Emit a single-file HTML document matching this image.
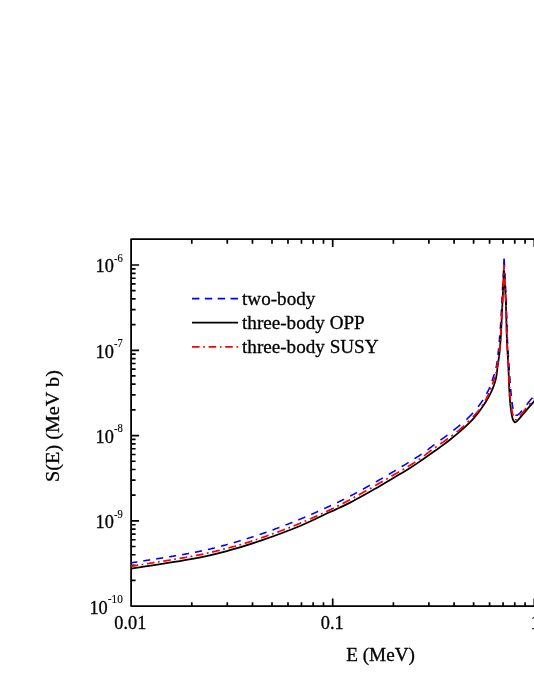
<!DOCTYPE html>
<html><head><meta charset="utf-8"><title>S(E)</title>
<style>
html,body{margin:0;padding:0;background:#fff;}
body{width:534px;height:691px;overflow:hidden;font-family:"Liberation Serif",serif;}
svg{display:block;will-change:transform;}
text{font-family:"Liberation Serif",serif;fill:#000;}
</style></head><body>
<svg width="534" height="691" viewBox="0 0 534 691">
<rect width="534" height="691" fill="#fff"/>
<g stroke="#000" stroke-width="1.8" fill="none" stroke-linecap="butt" stroke-linejoin="round">
<path d="M540 239.1 H131.1 V606.1 H540"/>
</g>
<g stroke="#000" stroke-width="1.7" fill="none">
<path d="M191.79 606.1 v-3.9 M191.79 239.1 v4.6 M227.29 606.1 v-3.9 M227.29 239.1 v4.6 M252.48 606.1 v-3.9 M252.48 239.1 v4.6 M272.01 606.1 v-3.9 M272.01 239.1 v4.6 M287.98 606.1 v-3.9 M287.98 239.1 v4.6 M301.47 606.1 v-3.9 M301.47 239.1 v4.6 M313.16 606.1 v-3.9 M313.16 239.1 v4.6 M323.48 606.1 v-3.9 M323.48 239.1 v4.6 M332.70 606.1 v-7.6 M332.70 239.1 v8.0 M393.39 606.1 v-3.9 M393.39 239.1 v4.6 M428.89 606.1 v-3.9 M428.89 239.1 v4.6 M454.08 606.1 v-3.9 M454.08 239.1 v4.6 M473.61 606.1 v-3.9 M473.61 239.1 v4.6 M489.58 606.1 v-3.9 M489.58 239.1 v4.6 M503.07 606.1 v-3.9 M503.07 239.1 v4.6 M514.76 606.1 v-3.9 M514.76 239.1 v4.6 M525.08 606.1 v-3.9 M525.08 239.1 v4.6 M534.30 606.1 v-7.6 M534.30 239.1 v8.0 M131.1 580.43 h4.5 M131.1 565.42 h4.5 M131.1 554.76 h4.5 M131.1 546.50 h4.5 M131.1 539.75 h4.5 M131.1 534.04 h4.5 M131.1 529.09 h4.5 M131.1 524.73 h4.5 M131.1 520.83 h8.0 M131.1 495.16 h4.5 M131.1 480.15 h4.5 M131.1 469.49 h4.5 M131.1 461.23 h4.5 M131.1 454.48 h4.5 M131.1 448.77 h4.5 M131.1 443.82 h4.5 M131.1 439.46 h4.5 M131.1 435.56 h8.0 M131.1 409.89 h4.5 M131.1 394.88 h4.5 M131.1 384.22 h4.5 M131.1 375.96 h4.5 M131.1 369.21 h4.5 M131.1 363.50 h4.5 M131.1 358.55 h4.5 M131.1 354.19 h4.5 M131.1 350.29 h8.0 M131.1 324.62 h4.5 M131.1 309.61 h4.5 M131.1 298.95 h4.5 M131.1 290.69 h4.5 M131.1 283.94 h4.5 M131.1 278.23 h4.5 M131.1 273.28 h4.5 M131.1 268.92 h4.5 M131.1 265.02 h8.0"/>
</g>
<text transform="translate(130.30,629.20) scale(0.99,1.0)" font-size="18.5" text-anchor="middle" stroke="#000" stroke-width="0.3">0.01</text>
<text transform="translate(332.20,629.20) scale(0.99,1.0)" font-size="18.5" text-anchor="middle" stroke="#000" stroke-width="0.3">0.1</text>
<text transform="translate(535.40,629.20) scale(0.99,1.0)" font-size="18.5" text-anchor="middle" stroke="#000" stroke-width="0.3">1</text>
<text transform="translate(107.70,614.10) scale(0.99,1.0)" font-size="18.5" text-anchor="end" stroke="#000" stroke-width="0.3">10</text>
<text transform="translate(107.80,603.25) scale(1.02,1.08)" font-size="11" text-anchor="start" stroke="#000" stroke-width="0.15">-10</text>
<text transform="translate(113.90,528.13) scale(0.99,1.0)" font-size="18.5" text-anchor="end" stroke="#000" stroke-width="0.3">10</text>
<text transform="translate(114.00,517.63) scale(0.96,1.08)" font-size="11" text-anchor="start" stroke="#000" stroke-width="0.15">-9</text>
<text transform="translate(113.90,442.86) scale(0.99,1.0)" font-size="18.5" text-anchor="end" stroke="#000" stroke-width="0.3">10</text>
<text transform="translate(114.00,432.36) scale(0.96,1.08)" font-size="11" text-anchor="start" stroke="#000" stroke-width="0.15">-8</text>
<text transform="translate(113.90,357.59) scale(0.99,1.0)" font-size="18.5" text-anchor="end" stroke="#000" stroke-width="0.3">10</text>
<text transform="translate(114.00,347.09) scale(0.96,1.08)" font-size="11" text-anchor="start" stroke="#000" stroke-width="0.15">-7</text>
<text transform="translate(113.90,272.32) scale(0.99,1.0)" font-size="18.5" text-anchor="end" stroke="#000" stroke-width="0.3">10</text>
<text transform="translate(114.00,261.82) scale(0.96,1.08)" font-size="11" text-anchor="start" stroke="#000" stroke-width="0.15">-6</text>
<text transform="translate(346.20,660.60)" font-size="19.2" text-anchor="start" stroke="#000" stroke-width="0.3">E (MeV)</text>
<text transform="translate(59.00,481.90) rotate(-90) scale(1.01,0.97)" font-size="20" text-anchor="start" stroke="#000" stroke-width="0.3">S(E) (MeV b)</text>
<g fill="none" stroke-width="1.8">
<path d="M192 298.7 H238" stroke="#0000ff" stroke-dasharray="7.4 5.45"/>
<path d="M192 322.7 H238" stroke="#000"/>
<path d="M192 346.9 H238" stroke="#ff0000" stroke-dasharray="7.6 3.7 1.6 3.7"/>
</g>
<text transform="translate(242.00,304.60) scale(0.982,0.97)" font-size="19.5" text-anchor="start" stroke="#000" stroke-width="0.3">two-body</text>
<text transform="translate(242.00,328.80) scale(0.982,0.97)" font-size="19.5" text-anchor="start" stroke="#000" stroke-width="0.3">three-body OPP</text>
<text transform="translate(242.00,352.90) scale(0.982,0.97)" font-size="19.5" text-anchor="start" stroke="#000" stroke-width="0.3">three-body SUSY</text>
<g fill="none" stroke-linejoin="round">
<path d="M131.1 562.9 131.9 562.7 132.7 562.6 133.5 562.5 134.3 562.3 135.1 562.2 135.9 562.1 136.7 562.0 137.3 561.9 M143.3 560.9 144.1 560.8 144.9 560.7 145.7 560.5 146.5 560.4 147.3 560.3 148.1 560.2 148.9 560.0 149.7 559.9 150.2 559.8 M156.2 558.9 157.0 558.8 157.9 558.6 158.7 558.5 159.5 558.4 160.3 558.2 161.1 558.1 161.9 558.0 162.7 557.9 163.2 557.8 M169.2 556.8 170.0 556.7 170.8 556.6 171.6 556.4 172.4 556.3 173.2 556.2 174.0 556.0 174.8 555.9 175.6 555.8 176.1 555.7 M182.1 554.7 182.9 554.5 183.7 554.4 184.5 554.2 185.3 554.1 186.1 554.0 186.9 553.8 187.7 553.7 188.5 553.5 189.0 553.4 M195.0 552.3 195.8 552.1 196.6 552.0 197.4 551.8 198.2 551.6 199.0 551.5 199.8 551.3 200.6 551.1 201.4 551.0 201.9 550.9 M207.9 549.5 208.7 549.3 209.5 549.2 210.3 549.0 211.1 548.8 211.8 548.6 212.6 548.4 213.4 548.2 214.2 548.0 214.8 547.8 M220.9 546.2 221.6 546.0 222.4 545.8 223.2 545.6 224.0 545.4 224.8 545.2 225.5 545.0 226.3 544.7 227.1 544.5 227.7 544.3 M233.8 542.7 234.5 542.4 235.3 542.2 236.1 542.0 236.9 541.8 237.7 541.5 238.5 541.3 239.2 541.1 240.0 540.8 240.7 540.6 M246.7 538.8 247.5 538.5 248.2 538.3 249.0 538.0 249.8 537.8 250.5 537.5 251.3 537.3 252.1 537.0 252.9 536.8 253.6 536.5 M259.6 534.5 260.4 534.2 261.1 534.0 261.9 533.7 262.7 533.5 263.4 533.2 264.2 532.9 265.0 532.7 265.7 532.4 266.5 532.1 266.5 532.1 M272.5 529.9 273.3 529.7 274.0 529.4 274.8 529.1 275.6 528.8 276.3 528.5 277.1 528.3 277.8 528.0 278.6 527.7 279.3 527.4 279.4 527.4 M285.5 525.1 286.2 524.8 287.0 524.5 287.7 524.2 288.5 523.9 289.2 523.6 290.0 523.3 290.7 523.0 291.5 522.7 292.2 522.4 292.3 522.3 M298.4 519.9 299.1 519.6 299.8 519.3 300.6 519.0 301.3 518.6 302.1 518.3 302.8 518.0 303.6 517.7 304.3 517.4 305.1 517.1 305.3 517.0 M311.3 514.4 312.0 514.1 312.8 513.7 313.5 513.4 314.3 513.1 315.0 512.8 315.8 512.4 316.5 512.1 317.3 511.8 318.0 511.4 318.2 511.4 M324.2 508.6 324.9 508.3 325.7 508.0 326.4 507.6 327.2 507.3 327.9 506.9 328.6 506.6 329.4 506.3 330.1 505.9 330.8 505.6 331.1 505.5 M337.1 502.6 337.9 502.2 338.6 501.9 339.3 501.5 340.0 501.2 340.8 500.8 341.5 500.5 342.2 500.1 342.9 499.7 343.7 499.4 344.0 499.2 M350.1 496.1 350.8 495.8 351.5 495.4 352.2 495.0 352.9 494.6 353.7 494.2 354.4 493.9 355.1 493.5 355.8 493.1 356.5 492.7 357.0 492.5 M363.0 489.2 363.7 488.8 364.4 488.4 365.1 488.0 365.8 487.6 366.5 487.2 367.2 486.8 367.9 486.4 368.6 486.0 369.3 485.6 369.9 485.3 M375.9 481.9 376.6 481.5 377.3 481.1 378.0 480.7 378.7 480.3 379.4 479.9 380.1 479.5 380.8 479.1 381.5 478.6 382.2 478.2 382.8 477.9 M388.8 474.4 389.5 474.0 390.2 473.5 390.9 473.1 391.6 472.7 392.3 472.3 393.0 471.9 393.7 471.5 394.4 471.1 395.0 470.7 395.7 470.3 M401.7 466.7 402.4 466.2 403.1 465.8 403.8 465.4 404.5 465.0 405.2 464.6 405.9 464.1 406.6 463.7 407.2 463.3 407.9 462.9 408.6 462.4 408.6 462.4 M414.6 458.7 415.3 458.2 416.0 457.8 416.7 457.3 417.4 456.9 418.1 456.5 418.8 456.0 419.4 455.6 420.1 455.1 420.8 454.7 421.4 454.2 421.6 454.1 M427.6 449.8 428.2 449.3 428.9 448.8 429.5 448.3 430.1 447.8 430.8 447.4 431.4 446.9 432.1 446.4 432.7 445.9 433.4 445.4 434.0 444.9 434.5 444.6 M440.5 440.2 441.1 439.7 441.8 439.2 442.5 438.7 443.1 438.2 443.7 437.8 444.4 437.3 445.0 436.8 445.7 436.3 446.3 435.8 447.0 435.3 447.4 435.0 M453.4 430.4 454.0 429.9 454.7 429.4 455.3 428.9 455.9 428.4 456.6 427.9 457.2 427.4 457.9 426.9 458.5 426.4 459.1 425.9 459.7 425.4 460.3 424.9 M466.3 419.6 466.9 419.1 467.5 418.5 468.1 417.9 468.7 417.4 469.2 416.8 469.8 416.2 470.4 415.6 470.9 415.1 471.5 414.5 472.0 413.9 472.6 413.3 473.0 412.8 M478.0 406.8 478.5 406.2 479.0 405.5 479.5 404.9 480.0 404.2 480.4 403.5 480.9 402.9 481.4 402.2 481.8 401.5 482.3 400.9 482.8 400.2 483.0 399.9 M486.6 393.9 487.0 393.2 487.3 392.4 487.7 391.7 488.1 391.0 488.4 390.3 488.7 389.5 489.1 388.8 489.4 388.0 489.7 387.3 489.8 387.0 M492.0 381.0 492.3 380.2 492.6 379.4 492.8 378.7 493.1 377.9 493.3 377.1 493.6 376.4 493.8 375.6 494.1 374.8 494.3 374.0 M495.9 368.0 496.1 367.2 496.3 366.5 496.5 365.7 496.6 364.9 496.8 364.1 496.9 363.3 497.0 362.5 497.2 361.7 497.2 361.1 M498.0 355.1 498.1 354.3 498.1 353.5 498.2 352.7 498.3 351.9 498.4 351.0 498.5 350.2 498.6 349.4 498.7 348.7 498.7 348.2 M499.2 342.2 499.3 341.4 499.4 340.6 499.4 339.8 499.5 339.0 499.6 338.2 499.6 337.4 499.7 336.6 499.8 335.7 499.8 335.3 M500.3 329.3 500.4 328.5 500.4 327.7 500.5 326.8 500.5 326.0 500.6 325.2 500.6 324.4 500.7 323.6 500.7 322.8 500.8 322.4 M501.1 316.3 501.2 315.5 501.2 314.7 501.2 313.9 501.3 313.1 501.3 312.3 501.4 311.5 501.4 310.7 501.5 309.9 501.5 309.4 M501.8 303.4 501.9 302.6 501.9 301.8 501.9 301.0 502.0 300.2 502.0 299.4 502.1 298.6 502.1 297.8 502.2 297.0 502.2 296.5 M502.5 290.5 502.5 289.7 502.6 288.9 502.6 288.1 502.6 287.3 502.7 286.5 502.7 285.7 502.8 284.9 502.8 284.1 502.8 283.6 M503.1 277.6 503.2 276.8 503.2 276.0 503.3 275.2 503.3 274.4 503.3 273.6 503.4 272.8 503.4 272.0 503.5 271.2 503.5 270.7 M503.8 264.7 503.8 263.9 503.9 263.1 503.9 262.3 503.9 261.5 504.0 260.7 504.0 259.9 504.1 259.1 504.1 258.5 M504.2 259.9 504.2 260.7 504.3 261.5 504.3 262.3 504.3 263.1 504.4 263.9 504.4 264.7 504.5 265.5 504.5 266.3 504.5 266.8 M504.8 272.8 504.9 273.6 504.9 274.4 504.9 275.2 505.0 276.0 505.0 276.8 505.1 277.6 505.1 278.4 505.1 279.2 505.2 279.7 M505.5 285.7 505.5 286.5 505.6 287.3 505.6 288.1 505.6 288.9 505.7 289.7 505.7 290.5 505.8 291.3 505.8 292.1 505.8 292.6 M506.1 298.6 506.2 299.4 506.2 300.2 506.2 301.0 506.3 301.9 506.3 302.7 506.3 303.5 506.3 304.3 506.3 305.1 506.4 305.5 M506.5 311.6 506.5 312.4 506.6 313.2 506.6 314.0 506.6 314.8 506.6 315.6 506.7 316.4 506.7 317.2 506.7 318.0 506.7 318.5 M506.9 324.5 506.9 325.3 506.9 326.1 507.0 326.9 507.0 327.7 507.0 328.5 507.0 329.3 507.1 330.2 507.1 331.0 507.1 331.4 M507.3 337.4 507.3 338.2 507.4 339.0 507.4 339.8 507.4 340.6 507.5 341.4 507.5 342.3 507.6 343.1 507.6 343.9 507.6 344.3 M508.0 350.3 508.1 351.1 508.1 351.9 508.2 352.8 508.2 353.6 508.3 354.4 508.3 355.2 508.4 356.0 508.4 356.8 508.5 357.2 M508.8 363.2 508.9 364.0 508.9 364.8 509.0 365.6 509.0 366.5 509.1 367.3 509.1 368.1 509.2 368.9 509.2 369.7 509.3 370.2 M509.7 376.2 509.8 377.0 509.8 377.8 509.9 378.6 509.9 379.4 510.0 380.2 510.0 381.0 510.1 381.8 510.2 382.6 510.2 383.1 M510.7 389.1 510.7 389.9 510.8 390.7 510.9 391.5 510.9 392.3 511.0 393.1 511.1 393.9 511.2 394.7 511.3 395.5 511.3 396.0 M512.0 402.0 512.1 402.8 512.2 403.6 512.3 404.4 512.4 405.2 512.6 406.0 512.7 406.8 512.8 407.6 513.0 408.4 513.1 408.9 M515.5 414.9 516.2 415.3 517.0 415.2 517.7 414.9 518.4 414.4 519.0 413.9 519.6 413.4 520.2 412.8 520.7 412.2 521.2 411.6 521.7 410.9 522.0 410.7 M526.7 404.7 527.2 404.0 527.7 403.4 528.2 402.7 528.7 402.1 529.2 401.5 529.7 400.9 530.2 400.2 530.7 399.6 531.3 399.0 531.8 398.4 532.4 397.8 532.4 397.7" stroke="#0000ff" stroke-width="1.6"/>
<path d="M131.10 568.65 C141.32 567.03 176.08 561.98 192.40 558.95 C208.72 555.92 217.73 553.46 229.00 550.45 C240.27 547.44 248.17 544.98 260.00 540.90 C271.83 536.82 288.33 530.76 300.00 525.95 C311.67 521.14 323.33 515.12 330.00 512.05 C336.67 508.97 336.67 509.07 340.00 507.50 C343.33 505.93 345.83 504.77 350.00 502.60 C354.17 500.43 360.83 496.79 365.00 494.50 C369.17 492.21 371.67 490.75 375.00 488.85 C378.33 486.95 380.83 485.58 385.00 483.10 C389.17 480.62 395.83 476.52 400.00 474.00 C404.17 471.48 406.67 470.10 410.00 468.00 C413.33 465.90 416.67 463.68 420.00 461.40 C423.33 459.12 426.67 456.67 430.00 454.30 C433.33 451.93 436.67 449.63 440.00 447.20 C443.33 444.77 446.47 442.50 450.00 439.70 C453.53 436.90 457.45 433.75 461.20 430.40 C464.95 427.05 469.32 423.02 472.50 419.60 C475.68 416.18 478.05 412.92 480.30 409.90 C482.55 406.88 484.32 404.22 486.00 401.50 C487.68 398.78 489.10 396.23 490.40 393.60 C491.70 390.97 492.85 388.32 493.80 385.70 C494.75 383.08 495.45 381.18 496.10 377.90 C496.75 374.62 497.13 370.15 497.70 366.00 C498.27 361.85 499.02 357.33 499.50 353.00 C499.98 348.67 500.28 344.67 500.60 340.00 C500.92 335.33 501.07 331.67 501.40 325.00 C501.73 318.33 502.40 304.17 502.60 300.00 L504.00 270.50 L505.80 300.00 C505.92 304.17 506.32 318.33 506.50 325.00 C506.68 331.67 506.72 335.33 506.90 340.00 C507.08 344.67 507.37 348.67 507.60 353.00 C507.83 357.33 508.08 361.67 508.30 366.00 C508.52 370.33 508.73 375.00 508.90 379.00 C509.07 383.00 509.10 386.17 509.30 390.00 C509.50 393.83 509.82 398.70 510.10 402.00 C510.38 405.30 510.70 407.52 511.00 409.80 C511.30 412.08 511.55 414.00 511.90 415.70 C512.25 417.40 512.55 418.90 513.10 420.00 C513.65 421.10 514.45 422.22 515.20 422.30 C515.95 422.38 516.50 421.60 517.60 420.50 C518.70 419.40 520.12 417.68 521.80 415.70 C523.48 413.72 525.67 410.98 527.70 408.60 C529.73 406.22 531.95 403.73 534.00 401.40 C536.05 399.07 539.00 395.73 540.00 394.60" stroke="#000" stroke-width="1.75"/>
<path d="M131.1 566.2 131.9 566.1 132.7 566.0 133.5 565.9 134.3 565.7 135.1 565.6 135.9 565.5 136.7 565.4 137.5 565.2 138.2 565.1 M141.6 564.6 142.4 564.5 143.2 564.3 143.3 564.3 M146.9 563.7 147.7 563.6 148.5 563.5 149.3 563.4 150.1 563.2 150.9 563.1 151.7 563.0 152.5 562.9 153.3 562.7 154.1 562.6 154.5 562.5 M157.9 562.0 158.7 561.9 159.5 561.7 159.6 561.7 M163.2 561.2 164.0 561.0 164.8 560.9 165.6 560.8 166.4 560.6 167.2 560.5 168.0 560.4 168.8 560.3 169.6 560.1 170.4 560.0 170.8 559.9 M174.2 559.4 175.0 559.2 175.8 559.1 175.9 559.1 M179.5 558.5 180.3 558.3 181.1 558.2 181.9 558.1 182.7 557.9 183.5 557.8 184.3 557.6 185.1 557.5 185.9 557.4 186.7 557.2 187.1 557.2 M190.5 556.6 191.3 556.4 192.1 556.3 192.2 556.2 M195.8 555.5 196.6 555.4 197.4 555.2 198.2 555.1 199.0 554.9 199.8 554.8 200.6 554.6 201.4 554.4 202.2 554.3 203.0 554.1 203.4 554.0 M206.8 553.3 207.6 553.1 208.4 552.9 208.5 552.9 M212.1 552.1 212.9 551.9 213.7 551.7 214.5 551.5 215.3 551.3 216.1 551.1 216.8 550.9 217.6 550.7 218.4 550.6 219.2 550.4 219.7 550.2 M223.1 549.3 223.9 549.1 224.7 548.9 224.8 548.9 M228.4 548.0 229.2 547.8 230.0 547.5 230.7 547.3 231.5 547.1 232.3 546.9 233.1 546.7 233.9 546.5 234.7 546.3 235.4 546.1 236.0 545.9 M239.4 544.9 240.2 544.7 241.0 544.5 241.1 544.4 M244.7 543.3 245.5 543.1 246.3 542.8 247.0 542.6 247.8 542.4 248.6 542.1 249.4 541.9 250.1 541.6 250.9 541.4 251.7 541.1 252.3 540.9 M255.7 539.8 256.5 539.5 257.2 539.2 257.4 539.2 M261.0 538.0 261.8 537.7 262.5 537.4 263.3 537.2 264.1 536.9 264.8 536.6 265.6 536.4 266.4 536.1 267.1 535.8 267.9 535.5 268.6 535.3 M272.0 534.1 272.8 533.8 273.5 533.5 273.7 533.5 M277.3 532.1 278.1 531.9 278.8 531.6 279.6 531.3 280.3 531.0 281.1 530.7 281.9 530.5 282.6 530.2 283.4 529.9 284.1 529.6 284.9 529.3 284.9 529.3 M288.3 528.0 289.1 527.7 289.8 527.4 290.0 527.3 M293.6 525.9 294.4 525.6 295.1 525.3 295.9 525.0 296.6 524.7 297.3 524.4 298.1 524.1 298.9 523.8 299.6 523.5 300.3 523.2 301.1 522.8 301.2 522.8 M304.6 521.4 305.3 521.0 306.1 520.7 306.3 520.6 M309.9 519.0 310.6 518.7 311.4 518.4 312.1 518.1 312.9 517.7 313.6 517.4 314.4 517.1 315.1 516.7 315.8 516.4 316.6 516.1 317.3 515.7 317.5 515.6 M320.9 514.1 321.6 513.7 322.4 513.4 322.6 513.3 M326.2 511.6 326.9 511.3 327.7 510.9 328.4 510.6 329.1 510.2 329.9 509.9 330.6 509.5 331.3 509.2 332.1 508.8 332.8 508.5 333.5 508.1 333.8 508.0 M337.2 506.3 337.9 505.9 338.7 505.6 338.9 505.4 M342.5 503.6 343.2 503.3 344.0 502.9 344.7 502.5 345.4 502.1 346.1 501.8 346.8 501.4 347.6 501.0 348.3 500.6 349.0 500.3 349.7 499.9 350.1 499.7 M353.5 497.8 354.2 497.4 354.9 497.0 355.2 496.9 M358.8 494.9 359.5 494.5 360.2 494.1 360.9 493.7 361.6 493.3 362.3 492.9 363.0 492.5 363.7 492.1 364.4 491.7 365.1 491.3 365.9 490.9 366.4 490.6 M369.8 488.7 370.5 488.3 371.2 487.9 371.5 487.7 M375.1 485.6 375.8 485.2 376.5 484.8 377.2 484.4 377.9 484.0 378.6 483.6 379.3 483.2 380.0 482.8 380.7 482.4 381.4 482.0 382.1 481.6 382.7 481.3 M386.1 479.3 386.8 478.9 387.5 478.5 387.8 478.3 M391.4 476.3 392.1 475.8 392.8 475.4 393.5 475.0 394.2 474.6 394.9 474.2 395.6 473.8 396.3 473.4 397.0 473.0 397.7 472.6 398.4 472.2 399.0 471.8 M402.4 469.8 403.1 469.4 403.8 469.0 404.1 468.8 M407.7 466.7 408.4 466.2 409.1 465.8 409.8 465.4 410.5 465.0 411.2 464.6 411.8 464.2 412.5 463.7 413.2 463.3 413.9 462.9 414.6 462.4 415.3 462.0 415.3 462.0 M418.7 459.8 419.4 459.3 420.0 458.9 420.4 458.6 M424.0 455.9 424.6 455.4 425.3 454.9 425.9 454.4 426.5 453.8 427.1 453.3 427.8 452.9 428.4 452.4 429.1 451.9 429.7 451.4 430.4 450.9 431.0 450.5 431.6 450.0 M435.0 447.7 435.7 447.2 436.3 446.7 436.7 446.5 M440.3 444.0 441.0 443.5 441.6 443.0 442.3 442.6 443.0 442.1 443.6 441.6 444.3 441.2 445.0 440.7 445.6 440.2 446.3 439.8 446.9 439.3 447.6 438.8 447.9 438.6 M451.3 436.2 452.0 435.7 452.6 435.2 453.0 434.9 M456.6 432.1 457.2 431.6 457.9 431.1 458.5 430.6 459.1 430.1 459.7 429.6 460.3 429.1 460.9 428.5 461.5 428.0 462.1 427.4 462.8 426.9 463.4 426.3 464.0 425.8 464.2 425.5 M467.6 422.3 468.2 421.7 468.8 421.2 469.3 420.6 M472.8 417.0 473.4 416.5 473.9 415.9 474.5 415.3 475.0 414.7 475.6 414.1 476.1 413.5 476.6 412.9 477.1 412.2 477.7 411.6 478.2 411.0 478.7 410.3 479.2 409.7 479.4 409.4 M481.8 406.0 482.2 405.4 482.7 404.7 482.9 404.3 M485.2 400.7 485.6 400.0 486.0 399.3 486.4 398.6 486.7 397.9 487.1 397.2 487.5 396.5 487.8 395.7 488.2 395.0 488.5 394.3 488.9 393.5 489.0 393.1 M490.4 389.7 490.7 389.0 491.0 388.2 491.1 388.0 M492.4 384.4 492.6 383.7 492.9 382.9 493.2 382.1 493.4 381.4 493.7 380.6 493.9 379.8 494.2 379.1 494.4 378.3 494.7 377.5 494.9 376.8 M495.8 373.4 496.0 372.7 496.2 371.9 496.2 371.7 M496.9 368.1 497.1 367.3 497.2 366.6 497.3 365.8 497.5 365.0 497.6 364.2 497.8 363.4 497.9 362.6 498.0 361.8 498.1 361.0 498.2 360.5 M498.7 357.1 498.8 356.3 498.9 355.5 498.9 355.5 M499.3 351.8 499.4 351.0 499.5 350.2 499.6 349.4 499.7 348.6 499.8 347.8 499.8 347.0 499.9 346.2 500.0 345.4 500.0 344.6 500.1 344.2 M500.3 340.8 500.4 340.0 500.5 339.2 500.5 339.1 M500.7 335.5 500.8 334.7 500.8 333.9 500.9 333.1 500.9 332.3 500.9 331.5 501.0 330.7 501.0 329.9 501.1 329.1 501.1 328.3 501.1 327.9 M501.3 324.5 501.4 323.7 501.4 322.9 501.4 322.8 M501.6 319.2 501.6 318.4 501.7 317.6 501.7 316.8 501.8 316.0 501.8 315.2 501.9 314.4 501.9 313.6 501.9 312.8 502.0 312.0 502.0 311.6 M502.2 308.2 502.2 307.4 502.3 306.6 502.3 306.5 M502.4 302.9 502.5 302.1 502.5 301.3 502.6 300.5 502.6 299.7 502.6 298.9 502.7 298.1 502.7 297.3 502.7 296.5 502.8 295.7 502.8 295.3 M502.9 291.9 503.0 291.1 503.0 290.3 503.0 290.2 M503.1 286.6 503.2 285.8 503.2 285.0 503.2 284.2 503.3 283.4 503.3 282.6 503.3 281.9 503.4 281.1 503.4 280.3 503.4 279.5 503.4 279.0 M503.6 275.6 503.6 274.8 503.6 274.0 503.6 273.9 M503.8 270.3 503.8 269.5 503.9 268.7 503.9 267.9 503.9 267.1 503.9 266.3 504.0 265.5 504.0 265.0 M504.0 265.0 504.0 265.8 504.1 266.6 504.1 267.4 504.2 268.2 504.2 269.0 504.2 269.1 M504.4 272.5 504.4 273.3 504.5 274.1 504.5 274.2 M504.7 277.8 504.7 278.6 504.7 279.4 504.8 280.2 504.8 281.0 504.9 281.8 504.9 282.6 504.9 283.4 505.0 284.2 505.0 285.0 505.1 285.4 M505.2 288.8 505.3 289.6 505.3 290.4 505.3 290.5 M505.5 294.1 505.5 294.9 505.6 295.7 505.6 296.5 505.7 297.3 505.7 298.1 505.7 298.9 505.8 299.7 505.8 300.5 505.8 301.3 505.8 301.7 M505.9 305.1 506.0 305.9 506.0 306.7 506.0 306.8 M506.1 310.4 506.1 311.2 506.1 312.1 506.2 312.9 506.2 313.7 506.2 314.5 506.2 315.3 506.2 316.1 506.3 316.9 506.3 317.7 506.3 318.0 M506.4 321.4 506.4 322.2 506.4 323.0 506.4 323.1 M506.6 326.7 506.6 327.5 506.6 328.4 506.6 329.2 506.6 330.0 506.7 330.8 506.7 331.6 506.7 332.4 506.7 333.2 506.8 334.0 506.8 334.3 M506.9 337.7 506.9 338.5 507.0 339.3 507.0 339.4 M507.1 343.0 507.2 343.8 507.2 344.6 507.3 345.4 507.3 346.3 507.4 347.1 507.4 347.9 507.5 348.7 507.5 349.5 507.5 350.3 507.6 350.6 M507.8 354.0 507.8 354.8 507.8 355.6 507.8 355.7 M508.0 359.3 508.1 360.1 508.1 360.9 508.2 361.7 508.2 362.5 508.3 363.3 508.3 364.1 508.3 364.9 508.4 365.7 508.4 366.5 508.4 366.9 M508.6 370.3 508.7 371.1 508.7 371.9 508.7 372.0 M508.9 375.6 509.0 376.4 509.0 377.2 509.0 378.0 509.1 378.8 509.1 379.6 509.2 380.4 509.2 381.2 509.2 382.0 509.3 382.8 509.3 383.2 M509.5 386.6 509.5 387.4 509.5 388.2 509.6 388.3 M509.8 391.9 509.9 392.7 509.9 393.5 510.0 394.3 510.1 395.1 510.2 395.9 510.2 396.8 510.3 397.6 510.4 398.4 510.5 399.2 510.5 399.5 M510.9 402.9 511.0 403.7 511.1 404.5 511.1 404.6 M511.6 408.2 511.7 409.0 511.8 409.8 512.0 410.6 512.1 411.4 512.2 412.2 512.4 413.0 512.6 413.8 512.8 414.6 513.1 415.3 513.2 415.8 M515.1 419.2 515.7 419.7 516.5 419.6 516.8 419.3 M520.0 415.7 520.5 415.1 521.0 414.5 521.5 413.8 522.1 413.2 522.6 412.6 523.1 412.0 523.6 411.3 524.1 410.7 524.6 410.1 525.1 409.5 525.6 408.9 526.2 408.2 526.3 408.1 M529.2 404.7 529.7 404.1 530.2 403.5 530.6 403.0 M533.8 399.4 534.4 398.8 534.9 398.2 535.4 397.6 536.0 397.0 536.5 396.4 537.1 395.8 537.6 395.2 538.1 394.6 538.7 394.0 539.2 393.4 539.8 392.8 540.0 392.5" stroke="#ff0000" stroke-width="1.75"/>
</g>
</svg></body></html>
